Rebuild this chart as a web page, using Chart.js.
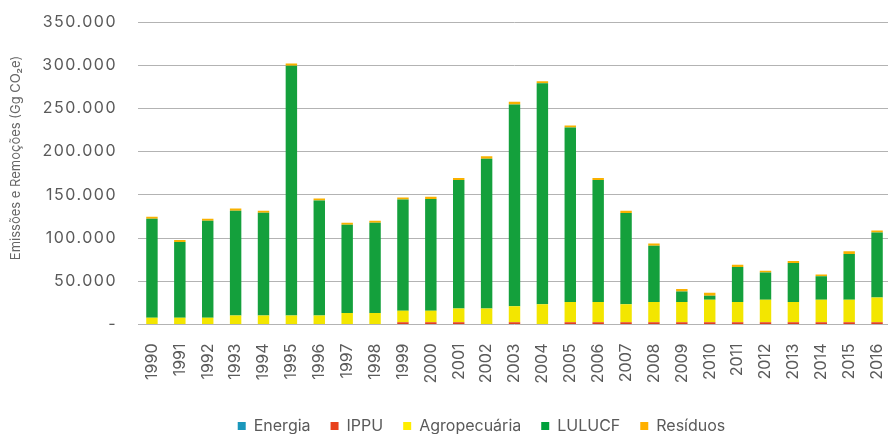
<!DOCTYPE html>
<html><head><meta charset="utf-8">
<script src="https://cdn.jsdelivr.net/npm/chart.js@4.4.1/dist/chart.umd.min.js"></script>
<style>html,body{margin:0;padding:0;background:#fff;overflow:hidden}
#wrap{position:relative;width:892px;height:434px}</style></head>
<body><div id="wrap"><canvas id="c"></canvas></div>
<script>
const years = ['1990','1991','1992','1993','1994','1995','1996','1997','1998','1999','2000','2001','2002','2003','2004','2005','2006','2007','2008','2009','2010','2011','2012','2013','2014','2015','2016'];
const energia = [0,0,0,0,0,0,0,0,0,0,0,0,0,0,0,0,0,0,0,0,0,0,0,0,0,0,0];
const ippu = [600,600,600,600,600,600,600,600,600,2500,2500,2500,600,2500,600,2500,2500,2500,2500,2500,2500,2500,2500,2500,2500,2500,2500];
const agropecuaria = [7300,7300,7300,9900,9900,9900,9900,12600,12600,13300,13300,15900,17800,18500,22700,23400,23400,20800,23400,23400,26100,23400,26100,23400,26100,26100,28700];
const lulucf = [114500,87600,112200,121200,118900,288800,132900,102300,104600,128700,129500,148900,173500,233500,255900,202100,141400,105700,65100,12300,4700,40500,31500,45300,27100,53100,75300];
const residuos = [2400,2300,2300,2400,2300,2600,2300,2300,2300,2400,2400,2300,2800,3100,2300,2300,2300,2700,2600,3000,3500,2600,2200,2300,2100,3000,2300];
const yTicks = [0,50000,100000,150000,200000,250000,300000,350000];
const seriesNames = ['Energia','IPPU','Agropecuária','LULUCF','Resíduos'];
const yTitle = 'Emissões e Remoções (Gg CO₂e)';

const FONT = 'Inter';
const TXT = '#5a5a5a';

class SpacedLinear extends Chart.LinearScale {
  drawLabels(area){
    const ctx = this.ctx;
    ctx.save();
    try { ctx.letterSpacing = '1.5px'; } catch(e) {}
    super.drawLabels(area);
    ctx.restore();
  }
}
SpacedLinear.id = 'spacedLinear';
SpacedLinear.defaults = Chart.LinearScale.defaults;
Chart.register(SpacedLinear);

const titlePlugin = {
  id: 'ytitle',
  afterDraw(chart){
    const ctx = chart.ctx;
    ctx.save();
    ctx.translate(16, 158);
    ctx.rotate(-Math.PI/2);
    ctx.font = '13px ' + FONT;
    ctx.fillStyle = '#666';
    ctx.textAlign = 'center';
    ctx.textBaseline = 'middle';
    ctx.fillText(yTitle, 0, 0);
    ctx.restore();
  }
};
const legendShift = {
  id: 'legendShift',
  afterLayout(chart){
    const lg = chart.legend;
    if (!lg) return;
    const dx = 36, dy = 10;
    lg.left += dx; lg.right += dx; lg.top += dy; lg.bottom += dy;
  }
};

const colors = ['#1a97bb','#e2401f','#f3e600','#14a03c','#f8b100'];
const legendColors = ['#1a97bb','#e8401c','#ffed00','#00a03c','#ffb000'];
const values = [energia, ippu, agropecuaria, lulucf, residuos];

function noPad(s){ s.paddingTop = 0; s.paddingBottom = 0; s.paddingLeft = 0; s.paddingRight = 0; }

new Chart(document.getElementById('c'), {
  type: 'bar',
  data: {
    labels: years,
    datasets: seriesNames.map((n,i)=>({
      label: n, data: values[i], backgroundColor: colors[i], borderWidth: 0,
      barPercentage: 0.41, categoryPercentage: 1.0
    }))
  },
  options: {
    responsive: true, maintainAspectRatio: false, animation: false,
    layout: { padding: { top: 22, right: 1, left: 0, bottom: 0 } },
    plugins: {
      legend: {
        position: 'bottom',
        labels: {
          boxWidth: 8, boxHeight: 8, padding: 20, color: TXT,
          font: { family: FONT, size: 16 },
          generateLabels(chart){
            return seriesNames.map((n,i)=>({text:n, fillStyle: legendColors[i], strokeStyle: legendColors[i], lineWidth:0, datasetIndex:i, hidden:false, fontColor: TXT}));
          }
        }
      },
      tooltip: { enabled: false }
    },
    scales: {
      x: {
        stacked: true,
        grid: { display: false, drawTicks: false },
        border: { display: false },
        ticks: { color: TXT, font: { family: FONT, size: 16 }, minRotation: 90, maxRotation: 90, padding: 19, autoSkip: false },
        afterFit(s){ s.height = 63.5; noPad(s); }
      },
      y: {
        type: 'spacedLinear',
        stacked: true, min: 0, max: 350000,
        afterBuildTicks(s){ s.ticks = yTicks.map(v=>({value:v})); },
        grid: { color: '#b3b3b3', lineWidth: 1, drawTicks: false },
        border: { display: false },
        ticks: { color: TXT, font: { family: FONT, size: 16 }, padding: 21,
          callback: v => v === 0 ? '-' : String(v).replace(/\B(?=(\d{3})+(?!\d))/g, '.') },
        afterFit(s){ s.width = 138; noPad(s); }
      }
    }
  },
  plugins: [titlePlugin, legendShift]
});
</script>
</body></html>
